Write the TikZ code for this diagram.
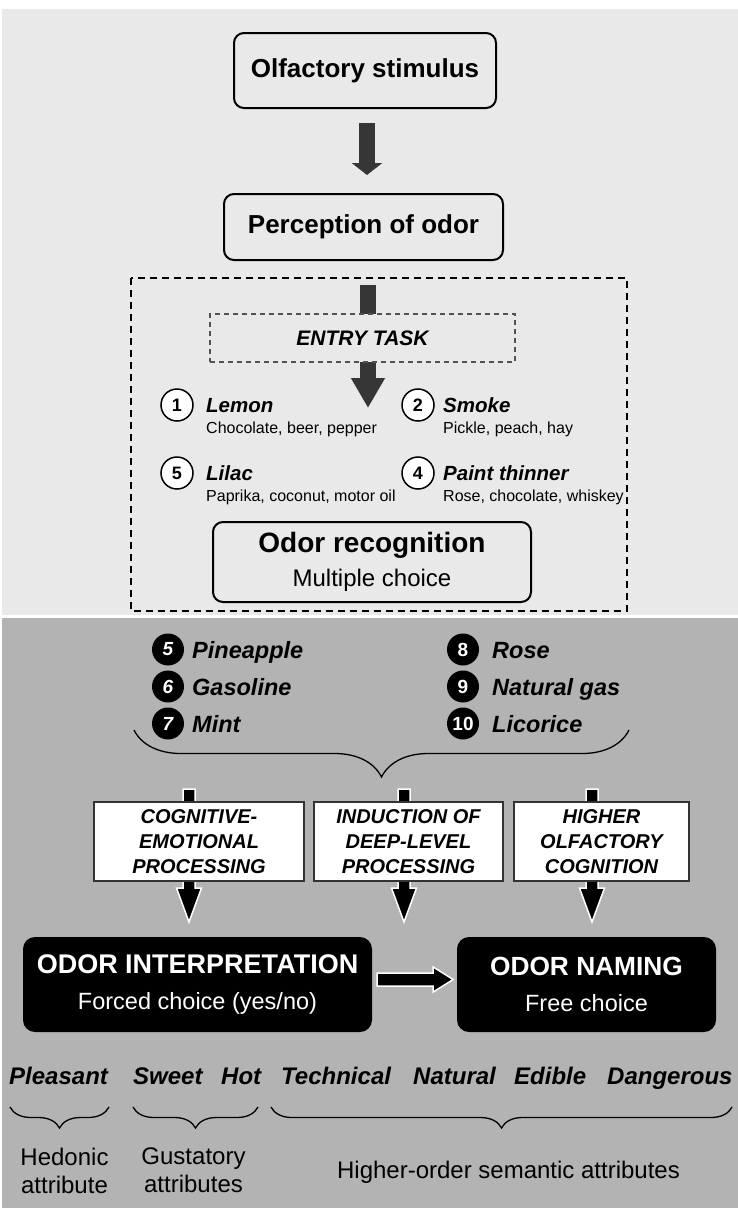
\documentclass[tikz,border=0pt]{standalone}
\usepackage{fontspec}
\setmainfont{Liberation Sans}
\usetikzlibrary{positioning,arrows.meta,decorations.pathreplacing}

\definecolor{paleback}{HTML}{E9E9E9}
\definecolor{greyback}{HTML}{B3B3B3}
\definecolor{arrowgrey}{HTML}{363636}
\definecolor{boxedge}{HTML}{333333}

\newcommand{\fs}[2]{\fontsize{#1}{#2}\selectfont}

\tikzset{
  stage/.style={draw, line width=2pt, rounded corners=10pt, fill=paleback, align=center, inner sep=0pt},
  fat arrow/.style={draw=arrowgrey, line width=16pt},
  numring/.style={circle, draw, line width=1.5pt, fill=white, minimum size=32pt, inner sep=0pt, font=\bfseries\fs{18}{18}},
  numdisk/.style={circle, fill=black, text=white, minimum size=32pt, inner sep=0pt, font=\bfseries\fs{19}{19}},
  odor/.style={anchor=base west, inner sep=0pt, font=\bfseries\itshape\fs{20.5}{24}},
  distract/.style={anchor=base west, inner sep=0pt, font=\fs{16}{19}},
  target/.style={anchor=base west, inner sep=0pt, font=\bfseries\itshape\fs{23.5}{28}},
  process/.style={draw=boxedge, line width=1.5pt, fill=white, align=center, inner sep=0pt, minimum height=79pt, font=\bfseries\itshape\fs{20}{25}},
  outcome/.style={fill=black, text=white, rounded corners=12pt, align=center, inner sep=0pt, minimum height=95pt, font=\fs{23.5}{36}},
  outlined/.style={fill=black, draw=white, line width=1.5pt},
  attr/.style={anchor=base west, inner sep=0pt, font=\bfseries\itshape\fs{24}{28}},
  attrgroup/.style={align=center, inner sep=0pt, font=\fs{24}{28}},
  curly/.style={decorate, decoration={brace, mirror, amplitude=#1}, line width=1.3pt},
  downarrow/.pic={\draw[outlined] (-6,0) -- (-6,-99) -- (-12.5,-99) -- (0,-133) -- (12.5,-99) -- (6,-99) -- (6,0) -- cycle;},
}

\begin{document}
\begin{tikzpicture}[x=1pt, y=1pt]
   \useasboundingbox (0,0) rectangle (738,-1208);
   \fill[paleback] (2,-9) rectangle (738,-615);
   \fill[greyback] (2,-618) rectangle (738,-1208);

   \node[stage, minimum width=262pt, minimum height=75pt, font=\bfseries\fs{26}{30}] (stim) at (365,-70.5) {Olfactory stimulus};
   \node[stage, minimum width=279pt, minimum height=66pt, font=\bfseries\fs{26}{30}] (perc) at (363.5,-227) {Perception of odor};
   \draw[fat arrow, -{Triangle[width=30pt,length=12pt]}] ([xshift=2pt,yshift=-14pt]stim.south) -- ++(0,-52);

   % recognition block
   \draw[dash pattern=on 7pt off 5pt, line width=1.5pt] (131,-278) rectangle (627,-611);
   \coordinate (entrytip) at (368,-408);
   \draw[fat arrow, -{Triangle[width=32pt,length=30pt]}] ([xshift=4.5pt,yshift=-24pt]perc.south) -- (entrytip);
   \node[draw=boxedge!85, dash pattern=on 5pt off 4pt, line width=1.3pt, fill=paleback, minimum width=305pt, minimum height=48pt, font=\bfseries\itshape\fs{21}{24}] (entry) at (362.5,-338) {ENTRY TASK};

   \node[numring] (r1) at (177,-405) {1};
   \node[odor] (lemon) at ([xshift=29pt,yshift=-7pt]r1.center) {Lemon};
   \node[distract] at ([yshift=-21pt]lemon.base west) {Chocolate, beer, pepper};
   \node[numring] (r2) at (418,-405) {2};
   \node[odor] (smoke) at ([xshift=25pt,yshift=-7pt]r2.center) {Smoke};
   \node[distract] at ([yshift=-21pt]smoke.base west) {Pickle, peach, hay};
   \node[numring] (r5) at (177,-473) {5};
   \node[odor] (lilac) at ([xshift=29pt,yshift=-7pt]r5.center) {Lilac};
   \node[distract] at ([yshift=-21pt]lilac.base west) {Paprika, coconut, motor oil};
   \node[numring] (r4) at (418,-473) {4};
   \node[odor] (paint) at ([xshift=25pt,yshift=-7pt]r4.center) {Paint thinner};
   \node[distract] at ([yshift=-21pt]paint.base west) {Rose, chocolate, whiskey};

   \node[stage, minimum width=318pt, minimum height=80pt, font=\fs{24}{34}] (recog) at (372,-562)
      {{\bfseries\fs{28}{34}Odor recognition}\\Multiple choice};

   % target odors
   \node[numdisk] (d5) at (168,-649.5) {\itshape 5};
   \node[target] at ([xshift=24pt,yshift=-8.5pt]d5.center) {Pineapple};
   \node[numdisk] (d6) at (168,-686.5) {\itshape 6};
   \node[target] at ([xshift=24pt,yshift=-8.5pt]d6.center) {Gasoline};
   \node[numdisk] (d7) at (168,-723.5) {\itshape 7};
   \node[target] at ([xshift=24pt,yshift=-8.5pt]d7.center) {Mint};
   \node[numdisk] (d8) at (463,-649.5) {8};
   \node[target] at ([xshift=29pt,yshift=-8.5pt]d8.center) {Rose};
   \node[numdisk] (d9) at (463,-686.5) {9};
   \node[target] at ([xshift=29pt,yshift=-8.5pt]d9.center) {Natural gas};
   \node[numdisk] (d10) at (463,-723.5) {10};
   \node[target] at ([xshift=29pt,yshift=-8.5pt]d10.center) {Licorice};

   \coordinate (bl) at (134,-730);
   \coordinate (br) at (629,-730);
   \draw[curly=47pt] (bl) -- (br);

   % three routes
   \coordinate (s1) at (189,-789);
   \coordinate (s2) at (404,-789);
   \coordinate (s3) at (592,-789);
   \pic at (s1) {downarrow};
   \pic at (s2) {downarrow};
   \pic at (s3) {downarrow};
   \node[process, minimum width=210pt] (cogemo) at (199,-841.5) {COGNITIVE-\\EMOTIONAL\\PROCESSING};
   \node[process, minimum width=189pt] (deep) at (408.5,-841.5) {INDUCTION OF\\DEEP-LEVEL\\PROCESSING};
   \node[process, minimum width=175pt] (higher) at (601.5,-841.5) {HIGHER\\OLFACTORY\\COGNITION};

   \node[outcome, minimum width=349pt] (interp) at (197.5,-984.5)
      {{\bfseries\fs{27}{36}ODOR INTERPRETATION}\\Forced choice (yes/no)};
   \node[outcome, minimum width=259pt] (naming) at (586.5,-984.5)
      {{\bfseries\fs{26.3}{36}ODOR NAMING}\\Free choice};
   \draw[outlined] ([xshift=5pt,yshift=11.5pt]interp.east) -- ++(56,0) -- ++(0,6) -- ++(20,-12.5)
      -- ++(-20,-12.5) -- ++(0,6) -- ++(-56,0) -- cycle;

   % attributes
   \node[attr] (pleasant) at (9,-1084) {Pleasant};
   \node[attr] (sweet) at (133,-1084) {Sweet};
   \node[attr] (hot) at (221,-1084) {Hot};
   \node[attr] (technical) at (281,-1084) {Technical};
   \node[attr] (natural) at (413,-1084) {Natural};
   \node[attr] (edible) at (514,-1084) {Edible};
   \node[attr] (dangerous) at (607,-1084) {Dangerous};

   \draw[curly=21pt] (10,-1107) -- coordinate[midway, yshift=-21pt] (t1) (109,-1107);
   \draw[curly=21pt] (133,-1107) -- coordinate[midway, yshift=-21pt] (t2) (258,-1107);
   \draw[curly=21pt] (271,-1107) -- coordinate[midway, yshift=-21pt] (t3) (732,-1107);

   \node[attrgroup, below=20pt of t1, xshift=5pt] (hedonic) {Hedonic\\attribute};
   \node[attrgroup, below=20pt of t2, xshift=-2pt] (gustatory) {Gustatory\\attributes};
   \node[attrgroup, below=33pt of t3, xshift=7pt] (semantic) {Higher-order semantic attributes};
\end{tikzpicture}
\end{document}
